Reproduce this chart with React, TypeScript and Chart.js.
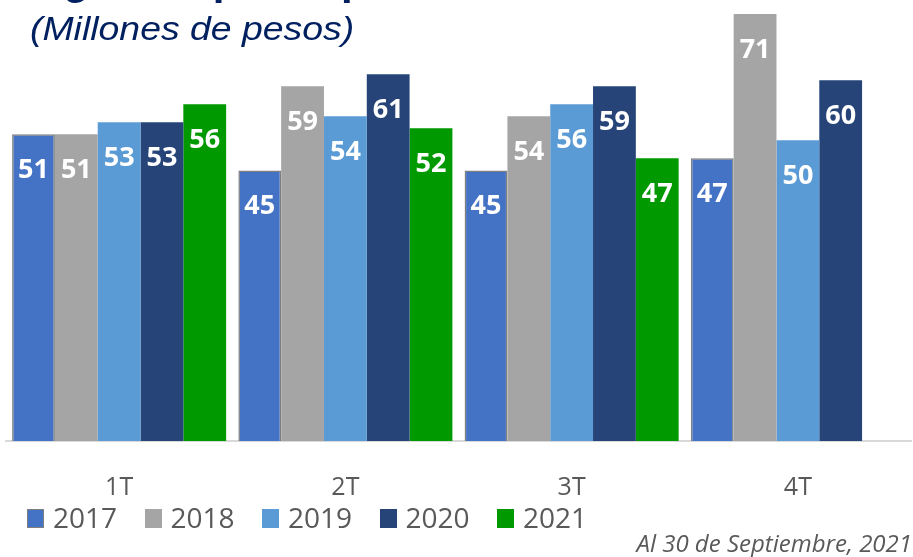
import React, { useEffect, useRef } from "react";
import { Chart, registerables } from "chart.js";

Chart.register(...registerables);

const categories = ["1T", "2T", "3T", "4T"];
const years = ["2017", "2018", "2019", "2020", "2021"];
const values2017 = [51, 45, 45, 47];
const values2018 = [51, 59, 54, 71];
const values2019 = [53, 54, 56, 50];
const values2020 = [53, 61, 59, 60];
const values2021 = [56, 52, 47, null];
const seriesValues = [values2017, values2018, values2019, values2020, values2021];
const seriesColors = ["#4472C4", "#A5A5A5", "#5B9BD5", "#264478", "#009900"];
const titleText = "Ingresos por Impuestos";
const subtitleText = "(Millones de pesos)";
const footerText = "Al 30 de Septiembre, 2021";

const valueLabels = {
  id: "valueLabels",
  afterDatasetsDraw(chart: any) {
    const ctx = chart.ctx;
    ctx.save();
    ctx.font = "bold 27px 'Open Sans'";
    ctx.fillStyle = "#ffffff";
    ctx.textAlign = "center";
    ctx.textBaseline = "middle";
    chart.data.datasets.forEach((ds: any, i: number) => {
      const meta = chart.getDatasetMeta(i);
      meta.data.forEach((bar: any, j: number) => {
        const v = ds.data[j];
        if (v == null) return;
        ctx.fillText(String(v), bar.x, bar.y + 36);
      });
    });
    ctx.restore();
  },
};

export default function App() {
  const canvasRef = useRef<HTMLCanvasElement | null>(null);

  useEffect(() => {
    if (!canvasRef.current) return;
    const chart = new Chart(canvasRef.current, {
      type: "bar",
      data: {
        labels: categories,
        datasets: years.map((y, i) => ({
          label: y,
          data: seriesValues[i],
          backgroundColor: seriesColors[i],
          borderColor: i === 0 ? "#7f7f7f" : seriesColors[i],
          borderWidth: i === 0 ? 1.5 : 0,
          borderSkipped: "bottom",
          categoryPercentage: 0.946,
          barPercentage: 1,
        })),
      },
      options: {
        responsive: false,
        animation: false,
        devicePixelRatio: 1,
        layout: { padding: { left: 6, right: 2, top: 8, bottom: 0 } },
        plugins: {
          legend: { display: false },
          title: { display: false },
          tooltip: { enabled: false },
        },
        scales: {
          x: {
            grid: { display: false },
            border: { display: true, color: "#d9d9d9", width: 2 },
            ticks: {
              color: "#595959",
              font: { family: "'Open Sans'", size: 25 },
              padding: 24,
            },
            afterFit(scale: any) {
              scale.height = 116;
            },
          },
          y: {
            display: false,
            min: 0,
            max: 72,
          },
        },
      },
      plugins: [valueLabels],
    });
    return () => chart.destroy();
  }, []);

  return (
    <div style={{ position: "absolute", left: 0, top: 0, width: 913, height: 557, overflow: "hidden", background: "#fff" }}>
      <canvas ref={canvasRef} width={913} height={557} style={{ position: "absolute", left: 0, top: 0 }} />
      <div
        style={{
          position: "absolute",
          left: 26,
          top: -41.5,
          fontFamily: "'Liberation Sans', Arial, sans-serif",
          fontWeight: "bold",
          fontSize: 42,
          lineHeight: 1,
          color: "#002060",
          whiteSpace: "nowrap",
        }}
      >
        {titleText}
      </div>
      <div
        style={{
          position: "absolute",
          left: 30,
          top: 11,
          fontFamily: "'Liberation Sans', Arial, sans-serif",
          fontStyle: "italic",
          fontSize: 34,
          lineHeight: 1,
          color: "#002060",
          whiteSpace: "nowrap",
          transform: "scaleX(1.1)",
          transformOrigin: "left top",
        }}
      >
        {subtitleText}
      </div>
      <div style={{ position: "absolute", left: 27, top: 503, display: "flex", fontFamily: "'Open Sans', sans-serif", fontSize: 28, lineHeight: 1, color: "#595959" }}>
        {years.map((y, i) => (
          <div key={y} style={{ width: 117.5, display: "flex", alignItems: "flex-start" }}>
            <span
              style={{
                display: "inline-block",
                width: 17,
                height: 19,
                marginTop: 6,
                marginRight: 9,
                boxSizing: "border-box",
                background: seriesColors[i],
                border: i === 0 ? "1.5px solid #7f7f7f" : "none",
              }}
            />
            <span>{y}</span>
          </div>
        ))}
      </div>
      <div
        style={{
          position: "absolute",
          right: 1,
          top: 530.5,
          fontFamily: "'Open Sans', sans-serif",
          fontStyle: "italic",
          fontSize: 24,
          lineHeight: 1,
          color: "#595959",
          whiteSpace: "nowrap",
        }}
      >
        {footerText}
      </div>
    </div>
  );
}
